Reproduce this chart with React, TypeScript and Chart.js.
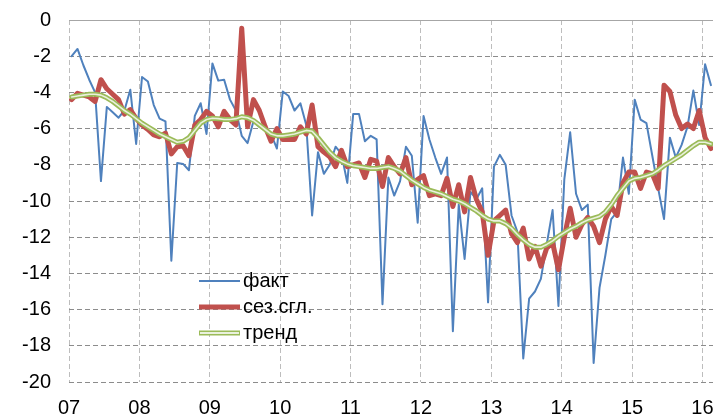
import { useEffect, useRef } from "react";
import { Chart, registerables } from "chart.js";

Chart.register(...registerables);

// Years on the x axis (one tick per January)
const YEAR_LABELS = ["07", "08", "09", "10", "11", "12", "13", "14", "15", "16"];

// Monthly values, Jan 2007 .. Feb 2016
const FACT = [
  -2.0, -1.6, -2.5, -3.3, -4.0, -8.9, -4.8, -5.1, -5.4, -5.0, -3.85, -6.85,
  -3.15, -3.4, -4.7, -5.45, -5.6, -13.3, -7.9, -7.95, -8.3, -5.3, -4.6, -6.3,
  -2.4, -3.35, -3.3, -4.4, -5.0, -6.4, -6.8, -5.6, -5.9, -5.9, -6.3, -7.1,
  -3.95, -4.2, -5.0, -4.6, -5.8, -10.8, -7.3, -8.5, -8.0, -7.0, -7.4, -9.0,
  -5.2, -5.2, -6.7, -6.4, -6.6, -15.7, -8.7, -9.7, -8.9, -7.0, -7.5, -11.2,
  -5.3, -6.6, -7.6, -8.5, -7.6, -17.2, -10.2, -13.2, -9.5, -9.9, -9.3, -15.6,
  -8.1, -7.45, -8.0, -10.8, -11.7, -18.7, -15.4, -15.0, -14.3, -12.4, -10.5, -15.8,
  -8.8, -6.2, -9.6, -10.5, -10.2, -18.95, -14.8, -13.0, -11.0, -10.6, -7.6, -9.6,
  -4.4, -5.5, -5.7, -7.5, -9.3, -11.0, -6.5, -7.6, -6.9, -5.9, -3.9, -5.8,
  -2.45, -3.6,
];

const SEASONAL = [
  -4.4, -4.05, -4.15, -4.25, -4.5, -3.3, -3.8, -4.1, -4.4, -5.2, -4.95, -5.45,
  -5.8, -6.05, -6.35, -6.45, -6.25, -7.4, -7.0, -6.95, -7.5, -5.8, -5.5, -5.05,
  -5.3, -5.9, -5.05, -5.5, -5.8, -0.45, -5.9, -4.4, -5.0, -5.9, -6.7, -6.0,
  -6.6, -6.6, -6.6, -5.9, -6.3, -4.7, -7.0, -7.3, -7.55, -8.1, -7.2, -8.1,
  -8.0, -7.9, -8.7, -7.7, -7.8, -9.2, -7.6, -8.1, -8.5, -7.6, -9.1, -8.8,
  -8.6, -9.7, -9.6, -9.7, -8.75, -10.3, -9.1, -10.6, -8.7, -9.9, -10.6, -13.0,
  -11.1, -10.8, -10.5, -11.8, -12.3, -11.5, -13.2, -12.5, -13.6, -12.6, -12.3, -13.8,
  -12.0, -10.4, -12.0, -11.3, -10.9, -11.4, -12.3, -11.0, -10.3, -10.8, -9.0, -8.4,
  -8.4, -9.3, -8.4, -8.5, -9.3, -3.6, -3.95, -5.25, -6.0, -5.75, -6.0, -5.0,
  -6.5, -7.1,
];

const TREND = [
  -4.25, -4.2, -4.15, -4.1, -4.1, -4.15, -4.3, -4.5, -4.75, -5.0, -5.2, -5.45,
  -5.7, -5.9, -6.1, -6.3, -6.45, -6.6, -6.75, -6.7, -6.5, -6.1, -5.7, -5.5,
  -5.43, -5.45, -5.5, -5.5, -5.45, -5.35, -5.4, -5.55, -5.8, -6.05, -6.3, -6.4,
  -6.4, -6.35, -6.3, -6.2, -6.1, -6.15, -6.5, -6.9, -7.3, -7.6, -7.8, -7.95,
  -8.05, -8.1, -8.15, -8.2, -8.2, -8.15, -8.1, -8.2, -8.35, -8.6, -8.85, -9.05,
  -9.25, -9.4, -9.5, -9.6, -9.75, -9.9, -10.0, -10.15, -10.35, -10.55, -10.8, -11.0,
  -11.1, -11.1, -11.25, -11.5, -11.85, -12.15, -12.4, -12.55, -12.55, -12.4, -12.2, -11.95,
  -11.75, -11.55, -11.4, -11.2, -11.05, -10.95, -10.85, -10.6, -10.2, -9.7, -9.3, -8.9,
  -8.75, -8.7, -8.6, -8.5, -8.3, -8.05, -7.85, -7.65, -7.45, -7.2, -6.95, -6.75,
  -6.75, -6.85,
];

const SERIES_LABELS = ["факт", "сез.сгл.", "тренд"];

const MONTHS_PER_YEAR = 12;
const MID_MONTH = 0.45;
const X_MAX = 109.8;
const Y_MIN = -20;
const Y_MAX = 0;
const Y_STEP = 2;

const BLUE = "#4F81BD";
const RED = "#C0504D";
const GREEN = "#9BBB59";
const GREEN_INNER = "#EAF1DD";
const FONT = "'Liberation Sans', Arial, sans-serif";

const toPoints = (arr: number[]) => arr.map((v, i) => ({ x: i + MID_MONTH, y: v }));

const legendPlugin = {
  id: "customLegend",
  afterDraw(chart: any) {
    const ctx = chart.ctx;
    const x0 = 199;
    const lineLen = 41;
    const rows = [281, 307, 333];
    ctx.save();
    ctx.font = `20px ${FONT}`;
    ctx.textBaseline = "middle";
    ctx.fillStyle = "#000";
    SERIES_LABELS.forEach((label, k) => {
      const y = rows[k];
      ctx.lineCap = "butt";
      if (k === 0) {
        ctx.strokeStyle = BLUE;
        ctx.lineWidth = 2;
        ctx.beginPath(); ctx.moveTo(x0, y); ctx.lineTo(x0 + lineLen, y); ctx.stroke();
      } else if (k === 1) {
        ctx.strokeStyle = RED;
        ctx.lineWidth = 5;
        ctx.beginPath(); ctx.moveTo(x0, y); ctx.lineTo(x0 + lineLen, y); ctx.stroke();
      } else {
        ctx.strokeStyle = GREEN;
        ctx.lineWidth = 5;
        ctx.beginPath(); ctx.moveTo(x0, y); ctx.lineTo(x0 + lineLen, y); ctx.stroke();
        ctx.strokeStyle = GREEN_INNER;
        ctx.lineWidth = 2;
        ctx.beginPath(); ctx.moveTo(x0 + 1, y); ctx.lineTo(x0 + lineLen - 1, y); ctx.stroke();
      }
      ctx.fillText(label, x0 + lineLen + 3, y);
    });
    ctx.restore();
  },
};

export default function App() {
  const canvasRef = useRef<HTMLCanvasElement | null>(null);

  useEffect(() => {
    document.body.style.margin = "0";
    const canvas = canvasRef.current;
    if (!canvas) return;
    const lineBase = {
      pointRadius: 0,
      pointHoverRadius: 0,
      tension: 0,
      fill: false,
      borderJoinStyle: "round" as const,
      borderCapStyle: "round" as const,
    };
    const chart = new Chart(canvas, {
      type: "line",
      data: {
        datasets: [
          { ...lineBase, label: SERIES_LABELS[0], data: toPoints(FACT), borderColor: BLUE, borderWidth: 2, order: 3 },
          { ...lineBase, label: SERIES_LABELS[1], data: toPoints(SEASONAL), borderColor: RED, borderWidth: 5, order: 2 },
          { ...lineBase, label: SERIES_LABELS[2], data: toPoints(TREND), borderColor: GREEN, borderWidth: 5, order: 1 },
          { ...lineBase, label: SERIES_LABELS[2] + " ", data: toPoints(TREND), borderColor: GREEN_INNER, borderWidth: 1.6, order: 0 },
        ],
      },
      options: {
        animation: false,
        responsive: true,
        maintainAspectRatio: false,
        layout: { padding: { top: 20, left: 0, right: 0, bottom: 0 } },
        plugins: { legend: { display: false }, tooltip: { enabled: false } },
        scales: {
          x: {
            type: "linear",
            min: 0,
            max: X_MAX,
            afterBuildTicks: (scale: any) => {
              scale.ticks = YEAR_LABELS.map((_, k) => ({ value: k * MONTHS_PER_YEAR }));
            },
            afterFit: (scale: any) => {
              scale.height = 32;
              scale.paddingLeft = 0;
              scale.paddingRight = 0;
            },
            ticks: {
              autoSkip: false,
              maxRotation: 0,
              padding: 14,
              color: "#000",
              font: { family: FONT, size: 20 },
              callback: (value: any) => YEAR_LABELS[Math.round(Number(value) / MONTHS_PER_YEAR)] ?? "",
            },
            grid: { color: "#BDBDBD", lineWidth: 1, drawTicks: false },
            border: { display: false, dash: [5, 3] },
          },
          y: {
            type: "linear",
            min: Y_MIN,
            max: Y_MAX,
            afterFit: (scale: any) => {
              scale.width = 69;
              scale.paddingTop = 0;
              scale.paddingBottom = 0;
            },
            ticks: {
              stepSize: Y_STEP,
              padding: 18,
              color: "#000",
              font: { family: FONT, size: 20 },
            },
            grid: {
              color: (c: any) => (c.tick && c.tick.value === Y_MAX ? "#A6A6A6" : "#8C8C8C"),
              lineWidth: 1,
              drawTicks: false,
            },
            border: {
              display: false,
              dash: (c: any) => (c.tick && c.tick.value === Y_MAX ? [] : [5, 3]),
            },
          },
        },
      },
      plugins: [legendPlugin],
    });
    return () => chart.destroy();
  }, []);

  return (
    <div style={{ position: "relative", width: 713, height: 414 }}>
      <canvas ref={canvasRef} />
    </div>
  );
}
